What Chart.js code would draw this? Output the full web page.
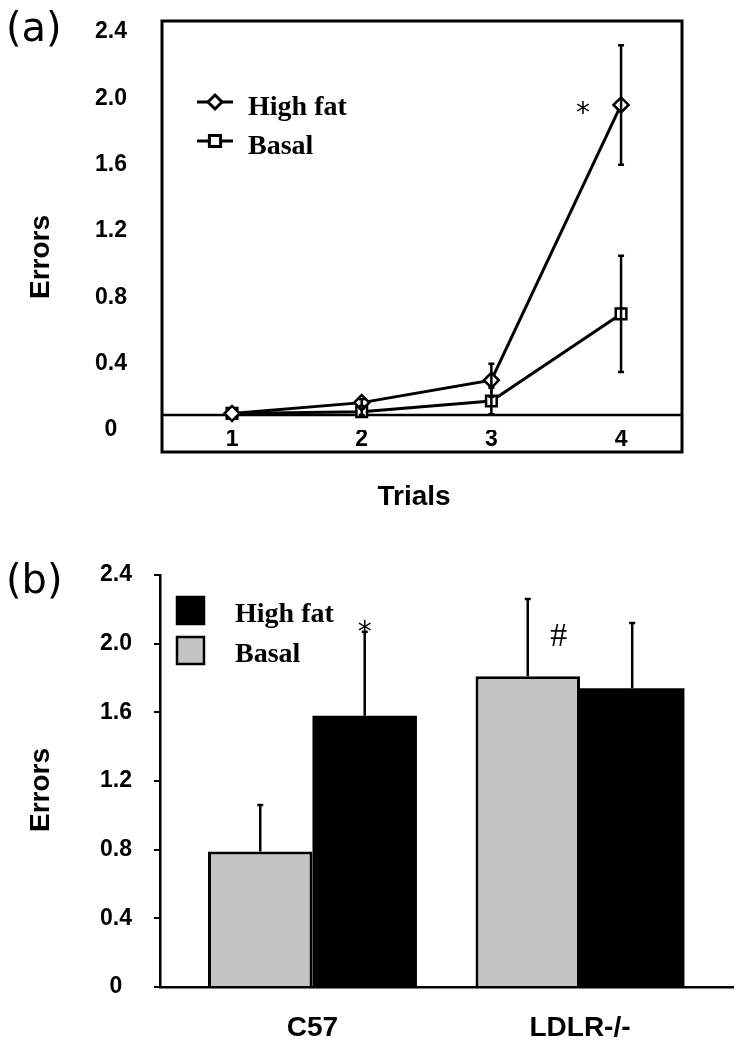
<!DOCTYPE html>
<html>
<head>
<meta charset="utf-8">
<script src="https://cdn.jsdelivr.net/npm/chart.js@4.4.1/dist/chart.umd.min.js"></script>
<style>
  html, body { margin: 0; padding: 0; background: #fff; }
  #page { position: relative; width: 740px; height: 1048px; }
  .tag { position: absolute; left: 6px; font: 40px "DejaVu Sans"; line-height: 1; color: #000; }
  #chartA { position: absolute; left: 0; top: 0; }
  #chartB { position: absolute; left: 0; top: 520px; }
</style>
</head>
<body>
<div id="page">
  <canvas id="chartA" width="740" height="520"></canvas>
  <canvas id="chartB" width="740" height="528"></canvas>
  <div class="tag" style="top:7px">(a)</div>
  <div class="tag" style="top:559px">(b)</div>
</div>
<script>
// panel (a): errors per trial
const trials = [1, 2, 3, 4];
const highFatA = [0.10, 0.165, 0.30, 1.96];
const highFatErrA = [0, 0.02, 0.10, 0.36];
const basalA = [0.10, 0.11, 0.175, 0.70];
const basalErrA = [0, 0.02, 0.08, 0.35];
const baselineA = 0.09;

// panel (b): errors per strain
const strains = ['C57', 'LDLR-/-'];
const basalB = [0.79, 1.81];
const basalErrB = [0.27, 0.45];
const highFatB = [1.58, 1.74];
const highFatErrB = [0.49, 0.38];

const yTicks = [0, 0.4, 0.8, 1.2, 1.6, 2.0, 2.4];
const yTickLabels = ['0', '0.4', '0.8', '1.2', '1.6', '2.0', '2.4'];

const tickFont = { family: 'Liberation Sans', weight: 'bold', size: 23 };
const legendFont = 'bold 28px "Liberation Serif"';

function toPoints(xs, ys) {
    return xs.map((x, i) => ({ x: x, y: ys[i] }));
}

function setYTicks(scale) {
    scale.ticks = yTicks.map(v => ({ value: v }));
}

const errorBars = {
    id: 'errorBars',
    afterDatasetsDraw(chart) {
        const ctx = chart.ctx;
        const yScale = chart.scales.y;
        chart.data.datasets.forEach((ds, i) => {
            if (!ds.errors) return;
            const meta = chart.getDatasetMeta(i);
            meta.data.forEach((el, j) => {
                const v = ds.data[j].y;
                const e = ds.errors[j];
                if (!e) return;
                const top = yScale.getPixelForValue(v + e);
                const bottom = ds.errorBoth ? yScale.getPixelForValue(v - e) : el.y;
                ctx.save();
                ctx.strokeStyle = '#000';
                ctx.lineWidth = 2.5;
                ctx.beginPath();
                ctx.moveTo(el.x, top);
                ctx.lineTo(el.x, bottom);
                ctx.moveTo(el.x - 3, top);
                ctx.lineTo(el.x + 3, top);
                if (ds.errorBoth) {
                    ctx.moveTo(el.x - 3, bottom);
                    ctx.lineTo(el.x + 3, bottom);
                }
                ctx.stroke();
                ctx.restore();
            });
        });
    }
};

function drawMarker(ctx, style, x, y, r) {
    ctx.beginPath();
    if (style === 'rectRot') {
        ctx.moveTo(x, y - r);
        ctx.lineTo(x + r, y);
        ctx.lineTo(x, y + r);
        ctx.lineTo(x - r, y);
        ctx.closePath();
    } else {
        ctx.rect(x - r * 0.8, y - r * 0.8, r * 1.6, r * 1.6);
    }
    ctx.fillStyle = '#fff';
    ctx.fill();
    ctx.stroke();
}

const boxA = {
    id: 'boxA',
    beforeDatasetsDraw(chart) {
        const { ctx, chartArea: a } = chart;
        const yb = chart.scales.y.getPixelForValue(baselineA);
        const boxBottom = a.bottom + 22;
        ctx.save();
        ctx.strokeStyle = '#000';
        ctx.lineWidth = 3;
        ctx.strokeRect(a.left, a.top, a.right - a.left, boxBottom - a.top);
        ctx.lineWidth = 2.5;
        ctx.beginPath();
        ctx.moveTo(a.left, yb);
        ctx.lineTo(a.right, yb);
        ctx.stroke();
        ctx.restore();
    }
};

const textA = {
    id: 'textA',
    afterDraw(chart) {
        const ctx = chart.ctx;
        ctx.save();
        ctx.fillStyle = '#000';
        ctx.strokeStyle = '#000';

        // legend
        const rows = [102, 141];
        chart.data.datasets.forEach((ds, i) => {
            const y = rows[i];
            ctx.lineWidth = 3;
            ctx.beginPath();
            ctx.moveTo(197, y);
            ctx.lineTo(233, y);
            ctx.stroke();
            ctx.lineWidth = 3;
            drawMarker(ctx, ds.pointStyle, 215, y, 7);
            ctx.fillStyle = '#000';
            ctx.font = legendFont;
            ctx.textAlign = 'left';
            ctx.textBaseline = 'alphabetic';
            ctx.fillText(ds.label, 248, y + 13);
        });

        // axis titles
        ctx.font = 'bold 28px "Liberation Sans"';
        ctx.textAlign = 'center';
        ctx.textBaseline = 'middle';
        ctx.fillText('Trials', 414, 497);
        ctx.save();
        ctx.translate(41, 257);
        ctx.rotate(-Math.PI / 2);
        ctx.fillText('Errors', 0, 0);
        ctx.restore();

        // significance mark next to last high fat point
        const pt = chart.getDatasetMeta(0).data[3];
        ctx.font = '28px "DejaVu Sans"';
        ctx.textBaseline = 'alphabetic';
        ctx.fillText('*', pt.x - 38, pt.y + 17);
        ctx.restore();
    }
};

new Chart(document.getElementById('chartA'), {
    type: 'line',
    data: {
        datasets: [{
            label: 'High fat',
            data: toPoints(trials, highFatA),
            errors: highFatErrA,
            errorBoth: true,
            pointStyle: 'rectRot',
            pointRadius: 7.5,
            borderColor: '#000',
            borderWidth: 3,
            pointBorderWidth: 2.5,
            pointBackgroundColor: '#fff',
            pointBorderColor: '#000',
            tension: 0
        }, {
            label: 'Basal',
            data: toPoints(trials, basalA),
            errors: basalErrA,
            errorBoth: true,
            pointStyle: 'rect',
            pointRadius: 7.5,
            borderColor: '#000',
            borderWidth: 3,
            pointBorderWidth: 2.5,
            pointBackgroundColor: '#fff',
            pointBorderColor: '#000',
            tension: 0
        }]
    },
    options: {
        responsive: false,
        animation: false,
        layout: { padding: { top: 21, right: 58, left: 0, bottom: 0 } },
        plugins: { legend: { display: false }, tooltip: { enabled: false } },
        scales: {
            x: {
                type: 'linear',
                min: 0.46,
                max: 4.47,
                offset: false,
                afterBuildTicks: (s) => { s.ticks = trials.map(v => ({ value: v })); },
                afterFit: (s) => { s.height = 90; },
                grid: { display: false, drawTicks: false },
                border: { display: false },
                ticks: { padding: -4, color: '#000', font: tickFont, callback: (v) => String(v) }
            },
            y: {
                min: 0,
                max: 2.466,
                afterBuildTicks: setYTicks,
                afterFit: (s) => { s.width = 162; },
                grid: { display: true, drawOnChartArea: false, drawTicks: true, tickLength: 35, color: 'rgba(0,0,0,0)' },
                border: { display: false },
                ticks: {
                    padding: 0,
                    crossAlign: 'center',
                    color: '#000',
                    font: tickFont,
                    callback: (v) => yTickLabels[yTicks.indexOf(v)]
                }
            }
        }
    },
    plugins: [boxA, errorBars, textA]
});

const textB = {
    id: 'textB',
    afterDraw(chart) {
        const ctx = chart.ctx;
        const yScale = chart.scales.y;
        ctx.save();
        ctx.fillStyle = '#000';
        ctx.strokeStyle = '#000';

        // legend, high fat listed first
        const order = [1, 0];
        const rows = [77, 117];
        order.forEach((di, k) => {
            const ds = chart.data.datasets[di];
            ctx.fillStyle = ds.backgroundColor;
            ctx.fillRect(177, rows[k], 27, 27);
            ctx.lineWidth = 2.5;
            ctx.strokeRect(177, rows[k], 27, 27);
            ctx.fillStyle = '#000';
            ctx.font = legendFont;
            ctx.textAlign = 'left';
            ctx.textBaseline = 'alphabetic';
            ctx.fillText(ds.label, 235, rows[k] + 25);
        });

        ctx.font = 'bold 28px "Liberation Sans"';
        ctx.textAlign = 'center';
        ctx.textBaseline = 'middle';
        ctx.save();
        ctx.translate(41, 270);
        ctx.rotate(-Math.PI / 2);
        ctx.fillText('Errors', 0, 0);
        ctx.restore();

        // significance marks
        const hf = chart.getDatasetMeta(1).data[0];
        const starY = yScale.getPixelForValue(highFatB[0] + highFatErrB[0]) - 8;
        ctx.font = '28px "DejaVu Sans"';
        ctx.textBaseline = 'alphabetic';
        ctx.fillText('*', hf.x, starY + 17);

        const bs = chart.getDatasetMeta(0).data[1];
        const hashY = yScale.getPixelForValue(basalB[1] + basalErrB[1]) + 36;
        ctx.font = '34px "Liberation Serif"';
        ctx.fillText('#', bs.x + 31, hashY + 11);
        ctx.restore();
    }
};

new Chart(document.getElementById('chartB'), {
    type: 'bar',
    data: {
        datasets: [{
            label: 'Basal',
            data: toPoints([1, 2], basalB),
            errors: basalErrB,
            backgroundColor: 'rgb(196,196,196)',
            borderColor: '#000',
            borderWidth: 3,
            borderSkipped: 'bottom'
        }, {
            label: 'High fat',
            data: toPoints([1, 2], highFatB),
            errors: highFatErrB,
            backgroundColor: '#000',
            borderColor: '#000',
            borderWidth: 0
        }]
    },
    options: {
        responsive: false,
        animation: false,
        layout: { padding: { top: 55, right: 7, left: 0, bottom: 0 } },
        datasets: { bar: { categoryPercentage: 0.781, barPercentage: 1 } },
        plugins: { legend: { display: false }, tooltip: { enabled: false } },
        scales: {
            x: {
                type: 'linear',
                min: 0.43,
                max: 2.572,
                offset: false,
                afterBuildTicks: (s) => { s.ticks = strains.map((c, i) => ({ value: i + 1 })); },
                afterFit: (s) => { s.height = 61; },
                grid: { display: false, drawTicks: false, offset: false },
                border: { display: true, color: '#000', width: 2.5 },
                ticks: {
                    padding: 24,
                    color: '#000',
                    font: { family: 'Liberation Sans', weight: 'bold', size: 28 },
                    callback: (v) => strains[v - 1]
                }
            },
            y: {
                min: 0,
                max: 2.4,
                afterBuildTicks: setYTicks,
                afterFit: (s) => { s.width = 160; },
                grid: { display: true, drawOnChartArea: false, drawTicks: true, tickLength: 6, color: '#000', lineWidth: 2 },
                border: { display: true, color: '#000', width: 2.5 },
                ticks: {
                    padding: 22,
                    crossAlign: 'center',
                    color: '#000',
                    font: tickFont,
                    callback: (v) => yTickLabels[yTicks.indexOf(v)]
                }
            }
        }
    },
    plugins: [errorBars, textB]
});
</script>
</body>
</html>
